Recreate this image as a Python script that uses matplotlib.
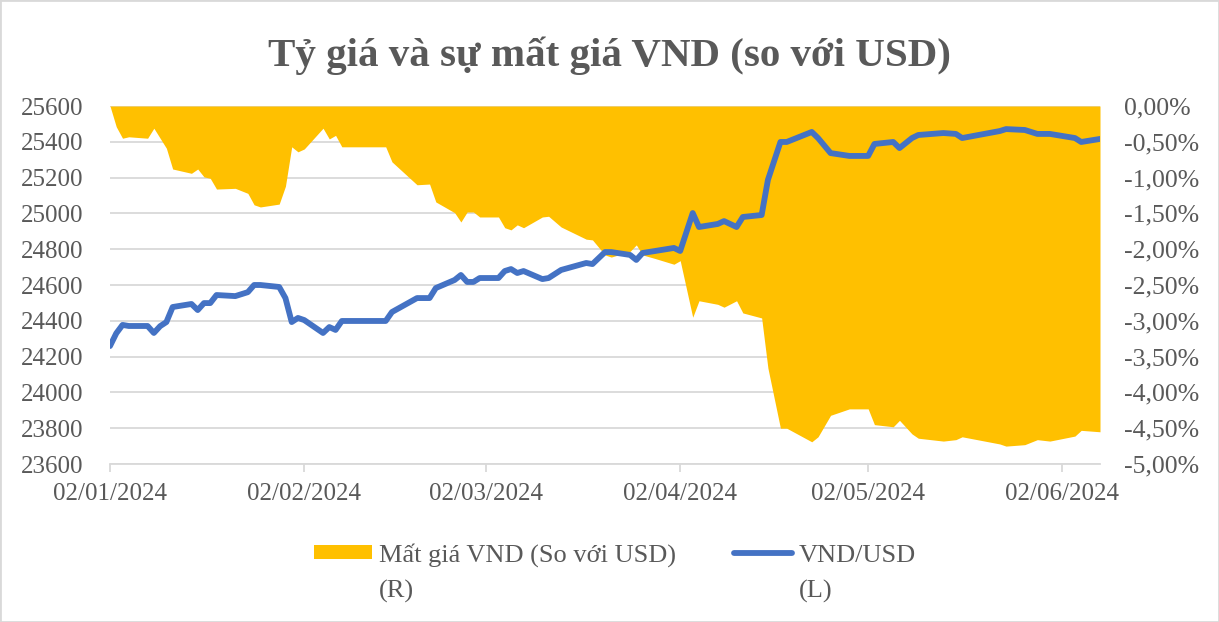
import matplotlib
matplotlib.use("Agg")
import matplotlib.pyplot as plt
import matplotlib.dates as mdates
from matplotlib.ticker import FuncFormatter, MultipleLocator
from matplotlib.patches import Rectangle
import pandas as pd

# data
dates = ["2024-01-02", "2024-01-03", "2024-01-04", "2024-01-05", "2024-01-08",
         "2024-01-09", "2024-01-10", "2024-01-11", "2024-01-12", "2024-01-15",
         "2024-01-16", "2024-01-17", "2024-01-18", "2024-01-19", "2024-01-22",
         "2024-01-24", "2024-01-25", "2024-01-26", "2024-01-29", "2024-01-30",
         "2024-01-31", "2024-02-01", "2024-02-02", "2024-02-05", "2024-02-06",
         "2024-02-07", "2024-02-08", "2024-02-15", "2024-02-16", "2024-02-20",
         "2024-02-22", "2024-02-23", "2024-02-26", "2024-02-27", "2024-02-28",
         "2024-02-29", "2024-03-01", "2024-03-04", "2024-03-05", "2024-03-06",
         "2024-03-07", "2024-03-08", "2024-03-11", "2024-03-12", "2024-03-14",
         "2024-03-18", "2024-03-19", "2024-03-21", "2024-03-22", "2024-03-25",
         "2024-03-26", "2024-03-27", "2024-03-29", "2024-04-01", "2024-04-02",
         "2024-04-04", "2024-04-05", "2024-04-08", "2024-04-09", "2024-04-11",
         "2024-04-12", "2024-04-15", "2024-04-16", "2024-04-18", "2024-04-19",
         "2024-04-23", "2024-04-24", "2024-04-26", "2024-04-29", "2024-05-02",
         "2024-05-03", "2024-05-06", "2024-05-07", "2024-05-09", "2024-05-10",
         "2024-05-14", "2024-05-16", "2024-05-17", "2024-05-23", "2024-05-24",
         "2024-05-27", "2024-05-29", "2024-05-31", "2024-06-04", "2024-06-05",
         "2024-06-08"]

vnd_usd = [24259, 24330, 24377, 24371, 24371,
           24332, 24370, 24393, 24477, 24494,
           24460, 24499, 24499, 24544, 24538,
           24560, 24600, 24600, 24589, 24527,
           24393, 24416, 24404, 24332, 24365,
           24349, 24399, 24399, 24449, 24527,
           24527, 24583, 24628, 24656, 24617,
           24617, 24639, 24639, 24678, 24689,
           24667, 24678, 24633, 24639, 24684,
           24723, 24717, 24784, 24784, 24768,
           24740, 24779, 24790, 24807, 24790,
           25002, 24924, 24941, 24957, 24924,
           24980, 24991, 25187, 25399, 25399,
           25455, 25421, 25337, 25321, 25321,
           25388, 25399, 25365, 25421, 25438,
           25449, 25444, 25421, 25460, 25471,
           25466, 25444, 25444, 25421, 25399,
           25416]

mat_gia = [0.00, -0.29, -0.45, -0.43, -0.45,
           -0.31, -0.45, -0.59, -0.88, -0.94,
           -0.88, -0.99, -1.01, -1.16, -1.15,
           -1.22, -1.38, -1.41, -1.37, -1.12,
           -0.57, -0.64, -0.60, -0.31, -0.46,
           -0.41, -0.57, -0.57, -0.78, -1.10,
           -1.09, -1.34, -1.49, -1.62, -1.48,
           -1.48, -1.55, -1.55, -1.70, -1.73,
           -1.66, -1.70, -1.55, -1.54, -1.69,
           -1.86, -1.87, -2.08, -2.11, -2.03,
           -1.94, -2.08, -2.13, -2.21, -2.16,
           -2.95, -2.72, -2.77, -2.81, -2.72,
           -2.89, -2.96, -3.66, -4.50, -4.50,
           -4.69, -4.62, -4.32, -4.23, -4.23,
           -4.45, -4.48, -4.39, -4.58, -4.64,
           -4.68, -4.66, -4.62, -4.72, -4.75,
           -4.73, -4.66, -4.68, -4.61, -4.53,
           -4.55]

title = "Tỷ giá và sự mất giá VND (so với USD)"
label_dep = "Mất giá VND (So với USD)"
label_rate = "VND/USD"
suffixes = ["(R)", "(L)"]

x = pd.to_datetime(dates)

plt.rcParams['font.family'] = ['Liberation Serif', 'DejaVu Serif']
txt = '#595959'
grid = '#d9d9d9'
W, H = 1219, 622

fig = plt.figure(figsize=(W / 100, H / 100), dpi=100)
fig.patches.append(Rectangle((0, 0), 1, 1, transform=fig.transFigure,
                             fill=False, edgecolor=grid, linewidth=2))

ax2 = fig.add_axes([110 / W, 1 - 464 / H, 990 / W, 358 / H])
ax = ax2.twinx()

# area on the right axis, with the grid under it
ax2.fill_between(x, 0, mat_gia, color='#FFC000', linewidth=0, zorder=2,
                 label=label_dep)
ax2.set_ylim(-5, 0)
ax2.yaxis.set_major_locator(MultipleLocator(0.5))
ax2.yaxis.tick_right()
ax2.yaxis.set_major_formatter(FuncFormatter(
    lambda v, p: ("%.2f%%" % (0 if abs(v) < 1e-9 else v)).replace('.', ',')))
ax2.grid(axis='y', color=grid, linewidth=1.3, zorder=0)
ax2.set_axisbelow(True)

# line on the left axis, drawn on top
ax.set_zorder(ax2.get_zorder() + 1)
ax.patch.set_visible(False)
ax.plot(x, vnd_usd, color='#4472C4', linewidth=4.2, solid_capstyle='round',
        label=label_rate)
ax.set_ylim(23600, 25600)
ax.yaxis.set_major_locator(MultipleLocator(200))
ax.yaxis.tick_left()

ax2.set_xlim(pd.Timestamp("2024-01-02"), pd.Timestamp("2024-06-08"))
ax2.xaxis.set_major_locator(mdates.MonthLocator(bymonthday=2))
ax2.xaxis.set_major_formatter(mdates.DateFormatter('%d/%m/%Y'))

for a in (ax, ax2):
    for s in ('top', 'left', 'right'):
        a.spines[s].set_visible(False)
ax.spines['bottom'].set_visible(False)
ax2.spines['bottom'].set_color(grid)
ax2.spines['bottom'].set_linewidth(1.3)

ax.tick_params(axis='y', length=0, labelsize=18, labelcolor=txt, pad=19)
ax2.tick_params(axis='y', length=0, labelsize=18.5, labelcolor=txt, pad=17)
ax2.tick_params(axis='x', length=6, width=1.3, color=grid, labelsize=18,
                labelcolor=txt, pad=8)

fig.text(0.5, 1 - 66 / H, title, ha='center', va='baseline', fontsize=29.5,
         fontweight='bold', color=txt)

h1, l1 = ax2.get_legend_handles_labels()
h2, l2 = ax.get_legend_handles_labels()
leg = fig.legend(h1 + h2, l1 + l2, loc='center', bbox_to_anchor=(0.5, 0.1),
                 ncol=2, frameon=False, fontsize=19, handlelength=2.2,
                 handleheight=0.45, handletextpad=0.25, columnspacing=2.2)
for t in leg.get_texts():
    t.set_color(txt)

# put the first label where the reference has it: starts at x=379, bottom ~567
fig.canvas.draw()
bb = leg.get_texts()[0].get_window_extent()
dx = (379 - bb.x0) / W
dy = ((H - 567) - bb.y0) / H
leg.set_bbox_to_anchor((0.5 + dx, 0.1 + dy), transform=fig.transFigure)

# second line of each legend entry, under its label
fig.canvas.draw()
inv = fig.transFigure.inverted()
for t, s in zip(leg.get_texts(), suffixes):
    bb = t.get_window_extent()
    x0, y0 = inv.transform((bb.x0, bb.y0 - 36))
    fig.text(x0, y0, s, ha='left', va='bottom', fontsize=19, color=txt)

fig.savefig("out.png", dpi=100)
